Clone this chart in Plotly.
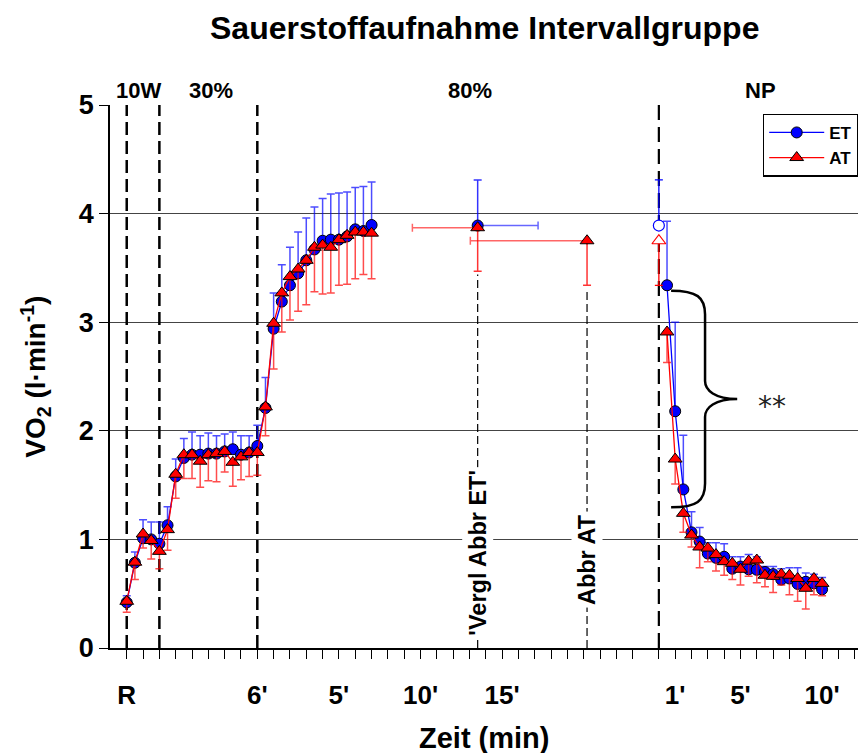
import plotly.graph_objects as go

# ---------------------------------------------------------------
# Oxygen uptake (VO2, l/min) of the interval group, mean + SD.
# One x step = 30 s.  Ruhe / 10 W / 30 % / 80 % phases on the left,
# Nachphase (NP) after the break on the right.
# ---------------------------------------------------------------

# exercise part: rest (R) .. end of 5 min at 80 %
ET_ex = [0.42, 0.785, 1.01, 1.00, 0.96, 1.13, 1.58, 1.75, 1.78, 1.78, 1.79,
         1.79, 1.81, 1.83, 1.78, 1.80, 1.86, 2.21, 2.94, 3.19, 3.34, 3.45,
         3.57, 3.67, 3.75, 3.76, 3.76, 3.79, 3.855, 3.84, 3.895]
ET_ex_sd = [0.06, 0.10, 0.17, 0.16, 0.20, 0.17, 0.16, 0.18, 0.21, 0.175, 0.19,
            0.165, 0.16, 0.16, 0.175, 0.155, 0.19, 0.28, 0.33, 0.34, 0.35, 0.38,
            0.39, 0.39, 0.39, 0.42, 0.43, 0.41, 0.385, 0.41, 0.395]
AT_ex = [0.43, 0.79, 1.05, 0.99, 0.89, 1.09, 1.60, 1.78, 1.78, 1.72, 1.78,
         1.79, 1.81, 1.71, 1.76, 1.80, 1.80, 2.22, 2.99, 3.27, 3.42, 3.49,
         3.57, 3.69, 3.71, 3.69, 3.76, 3.80, 3.83, 3.83, 3.82]
AT_ex_sd = [0.10, 0.16, 0.13, 0.17, 0.16, 0.19, 0.22, 0.22, 0.22, 0.24, 0.24,
            0.26, 0.19, 0.22, 0.21, 0.22, 0.21, 0.265, 0.42, 0.36, 0.40, 0.39,
            0.41, 0.41, 0.45, 0.42, 0.42, 0.45, 0.43, 0.39, 0.42]

# recovery (NP), 30 s .. 10 min
ET_np = [3.34, 2.18, 1.46, 1.065, 0.98, 0.87, 0.83, 0.84, 0.73, 0.75, 0.725,
         0.72, 0.70, 0.68, 0.63, 0.64, 0.59, 0.61, 0.595, 0.54]
ET_np_sd = [0.59, 0.82, 0.50, 0.19, 0.13, 0.10, 0.14, 0.12, 0.11, 0.09, 0.135,
            0.12, 0.05, 0.07, 0.10, 0.10, 0.15, 0.08, 0.085, 0.11]
AT_np = [2.91, 1.74, 1.24, 1.04, 0.93, 0.92, 0.86, 0.795, 0.78, 0.725, 0.80,
         0.81, 0.67, 0.66, 0.68, 0.67, 0.64, 0.55, 0.64, 0.595]
AT_np_sd = [0.28, 0.23, 0.175, 0.11, 0.19, 0.125, 0.15, 0.125, 0.15, 0.145, 0.14,
            0.21, 0.105, 0.15, 0.10, 0.18, 0.21, 0.19, 0.15, 0.115]

# values at termination (Abbruch) of the 80 % load, with SD of time (steps)
ET_abbr_t, ET_abbr, ET_abbr_sd, ET_abbr_tsd = 43.0, 3.89, 0.42, 7.4
AT_vergl_t, AT_vergl, AT_vergl_sd, AT_vergl_tsd = 43.0, 3.87, 0.40, 8.0
AT_abbr_t, AT_abbr, AT_abbr_sd, AT_abbr_tsd = 56.4, 3.75, 0.41, 14.3

# axis layout (in 30 s steps)
PHASE_LINES = [0, 4, 16]          # R, end 10 W, end 30 % (6')
NP_POS = 65.2                     # start of Nachphase, after axis break
EX_TICK_LABELS = {0: "R", 16: "6'", 26: "5'", 36: "10'", 46: "15'"}
NP_TICK_LABELS = {1: "1'", 5: "5'", 10: "10'"}
PHASE_NAMES = [("10W", 1.5), ("30%", 10.3), ("80%", 42.0), ("NP", 77.6)]

x_ex = list(range(len(ET_ex)))
x_np = [NP_POS + 1 + i for i in range(len(ET_np))]

BLUE = "#0000ff"
RED = "#ff0000"
FONT = "Liberation Sans, Arial, Helvetica, sans-serif"

fig = go.Figure()


def joined(a, b, fill=None):
    return a + [fill] + b


n_all = len(x_ex) + 1 + len(x_np)

fig.add_trace(go.Scatter(
    name="ET", x=joined(x_ex, x_np), y=joined(ET_ex, ET_np),
    mode="lines+markers", connectgaps=False,
    line=dict(color=BLUE, width=1.3),
    marker=dict(symbol="circle", size=11, color=BLUE, line=dict(color="black", width=1)),
    error_y=dict(type="data", symmetric=False, array=joined(ET_ex_sd, ET_np_sd, 0),
                 arrayminus=[0] * n_all, color="rgba(0,0,255,0.7)", thickness=1.5, width=4),
))
fig.add_trace(go.Scatter(
    name="AT", x=joined(x_ex, x_np), y=joined(AT_ex, AT_np),
    mode="lines+markers", connectgaps=False,
    line=dict(color=RED, width=1.3),
    marker=dict(symbol="triangle-up", size=12, color=RED, line=dict(color="black", width=1)),
    error_y=dict(type="data", symmetric=False, array=[0] * n_all,
                 arrayminus=joined(AT_ex_sd, AT_np_sd, 0), color="rgba(255,0,0,0.7)",
                 thickness=1.5, width=4),
))

# termination values with time spread
fig.add_trace(go.Scatter(
    x=[ET_abbr_t], y=[ET_abbr], mode="markers", showlegend=False,
    marker=dict(symbol="circle", size=11, color=BLUE, line=dict(color="black", width=1)),
    error_y=dict(type="data", symmetric=False, array=[ET_abbr_sd], arrayminus=[0],
                 color="rgba(0,0,255,0.8)", thickness=1.5, width=4),
    error_x=dict(type="data", symmetric=False, array=[ET_abbr_tsd], arrayminus=[0],
                 color="rgba(0,0,255,0.6)", thickness=1.5, width=4),
))
fig.add_trace(go.Scatter(
    x=[AT_vergl_t, AT_abbr_t], y=[AT_vergl, AT_abbr], mode="markers", showlegend=False,
    marker=dict(symbol="triangle-up", size=12, color=RED, line=dict(color="black", width=1)),
    error_y=dict(type="data", symmetric=False, array=[0, 0],
                 arrayminus=[AT_vergl_sd, AT_abbr_sd], color="rgba(255,0,0,0.8)",
                 thickness=1.5, width=4),
    error_x=dict(type="data", symmetric=False, array=[0, 0],
                 arrayminus=[AT_vergl_tsd, AT_abbr_tsd], color="rgba(255,0,0,0.6)",
                 thickness=1.5, width=4),
))

# termination values repeated (open) at the start of the Nachphase
fig.add_trace(go.Scatter(
    x=[NP_POS], y=[ET_abbr], mode="markers", showlegend=False,
    marker=dict(symbol="circle", size=11, color="white", line=dict(color=BLUE, width=1.2)),
    error_y=dict(type="data", symmetric=False, array=[ET_abbr_sd], arrayminus=[0],
                 color=BLUE, thickness=1.3, width=4),
))
fig.add_trace(go.Scatter(
    x=[NP_POS], y=[AT_abbr], mode="markers", showlegend=False,
    marker=dict(symbol="triangle-up", size=12, color="white", line=dict(color=RED, width=1.2)),
    error_y=dict(type="data", symmetric=False, array=[0], arrayminus=[AT_abbr_sd],
                 color=RED, thickness=1.3, width=4),
))

shapes = []
for xp in PHASE_LINES:
    shapes.append(dict(type="line", xref="x", yref="y", x0=xp, x1=xp, y0=0, y1=5,
                       layer="between", line=dict(color="black", width=2.5, dash="13px,6px")))
shapes.append(dict(type="line", xref="x", yref="y", x0=NP_POS, x1=NP_POS, y0=0, y1=5,
                   layer="between", line=dict(color="black", width=2.2, dash="15px,7px")))
# thin markers from the termination points down to the time axis
for xp, top in [(AT_vergl_t, AT_vergl - AT_vergl_sd), (AT_abbr_t, AT_abbr - AT_abbr_sd)]:
    shapes.append(dict(type="line", xref="x", yref="y", x0=xp, x1=xp, y0=0, y1=top - 0.03,
                       layer="between", line=dict(color="black", width=1.2, dash="8px,4px")))


def brace_path(x0, xv, xt, ytop, ybot, ry=0.22):
    ym = (ytop + ybot) / 2
    return (f"M {x0},{ytop} C {xv - 1.0},{ytop} {xv},{ytop - 0.06} {xv},{ytop - ry} "
            f"L {xv},{ym + ry * 0.75} "
            f"C {xv},{ym + 0.08} {xv + 1.2},{ym} {xt},{ym} "
            f"C {xv + 1.2},{ym} {xv},{ym - 0.08} {xv},{ym - ry * 0.75} "
            f"L {xv},{ybot + ry} "
            f"C {xv},{ybot + 0.06} {xv - 1.0},{ybot} {x0},{ybot}")


shapes.append(dict(type="path", xref="x", yref="y",
                   path=brace_path(66.7, 70.86, 74.8, 3.29, 1.295),
                   line=dict(color="black", width=2.5), layer="above"))

# labelled ticks (major) and the one-minute tick marks (minor) on both parts
lab_vals = list(EX_TICK_LABELS) + [NP_POS + 2 * k for k in NP_TICK_LABELS]
lab_text = list(EX_TICK_LABELS.values()) + list(NP_TICK_LABELS.values())
minor_vals = list(range(0, 63, 2)) + [NP_POS + 2 * k for k in range(13)]

bold = dict(family=FONT, color="black", weight="bold")
annotations = [
    dict(text="Sauerstoffaufnahme Intervallgruppe", xref="paper", yref="paper",
         x=0.5, y=1.1418, xanchor="center", yanchor="middle", showarrow=False,
         font=dict(size=32, **bold)),
    dict(text="VO<sub>2</sub> (l·min<sup>-1</sup>)", xref="paper", yref="paper",
         x=-0.1, y=0.5, xanchor="center", yanchor="middle", textangle=-90, showarrow=False,
         font=dict(size=28, **bold)),
    dict(text="Zeit (min)", xref="paper", yref="paper", x=0.5, y=-0.166,
         xanchor="center", yanchor="middle", showarrow=False, font=dict(size=29, **bold)),
    dict(text="'Vergl Abbr ET'", xref="x", yref="y", x=AT_vergl_t, y=0.875,
         textangle=-90, showarrow=False, bgcolor="white", borderpad=2,
         font=dict(size=23.5, **bold)),
    dict(text="Abbr AT", xref="x", yref="y", x=AT_abbr_t, y=0.81,
         textangle=-90, showarrow=False, bgcolor="white", borderpad=2,
         font=dict(size=23.5, **bold)),
    dict(text="**", xref="x", yref="y", x=79.1, y=2.22, showarrow=False,
         font=dict(size=28, family="DejaVu Sans, sans-serif", color="#222")),
]
for label, xp in PHASE_NAMES:
    annotations.append(dict(text=label, xref="x", yref="paper", x=xp, y=1.0276,
                            xanchor="center", yanchor="middle", showarrow=False,
                            font=dict(size=22, **bold)))

fig.update_layout(
    width=858, height=753,
    margin=dict(l=110, r=0, t=105, b=105),
    paper_bgcolor="white", plot_bgcolor="white",
    shapes=shapes, annotations=annotations,
    legend=dict(x=1.0, xanchor="right", y=0.984, yanchor="top",
                bordercolor="black", borderwidth=1.2, bgcolor="white",
                itemwidth=55, font=dict(size=17, **bold), tracegroupgap=0),
    xaxis=dict(range=[-2.05, 89.6], tickmode="array", tickvals=lab_vals, ticktext=lab_text,
               ticks="outside", ticklen=9, tickwidth=1.2, tickcolor="black",
               minor=dict(tickmode="array", tickvals=minor_vals, ticks="outside",
                          ticklen=9, tickwidth=1.2, tickcolor="black", showgrid=False),
               showline=True, linecolor="black", linewidth=1.5,
               showgrid=False, zeroline=False, ticklabelstandoff=14,
               tickfont=dict(size=26, **bold)),
    yaxis=dict(range=[0, 5], tickmode="array", tickvals=[0, 1, 2, 3, 4, 5],
               ticks="outside", ticklen=9, tickwidth=1.2, tickcolor="black",
               showline=True, linecolor="black", linewidth=1.5,
               showgrid=True, gridcolor="#444444", gridwidth=1.2, zeroline=False,
               tickfont=dict(size=27, **bold)),
    showlegend=True,
)

fig.write_html("out.html")
